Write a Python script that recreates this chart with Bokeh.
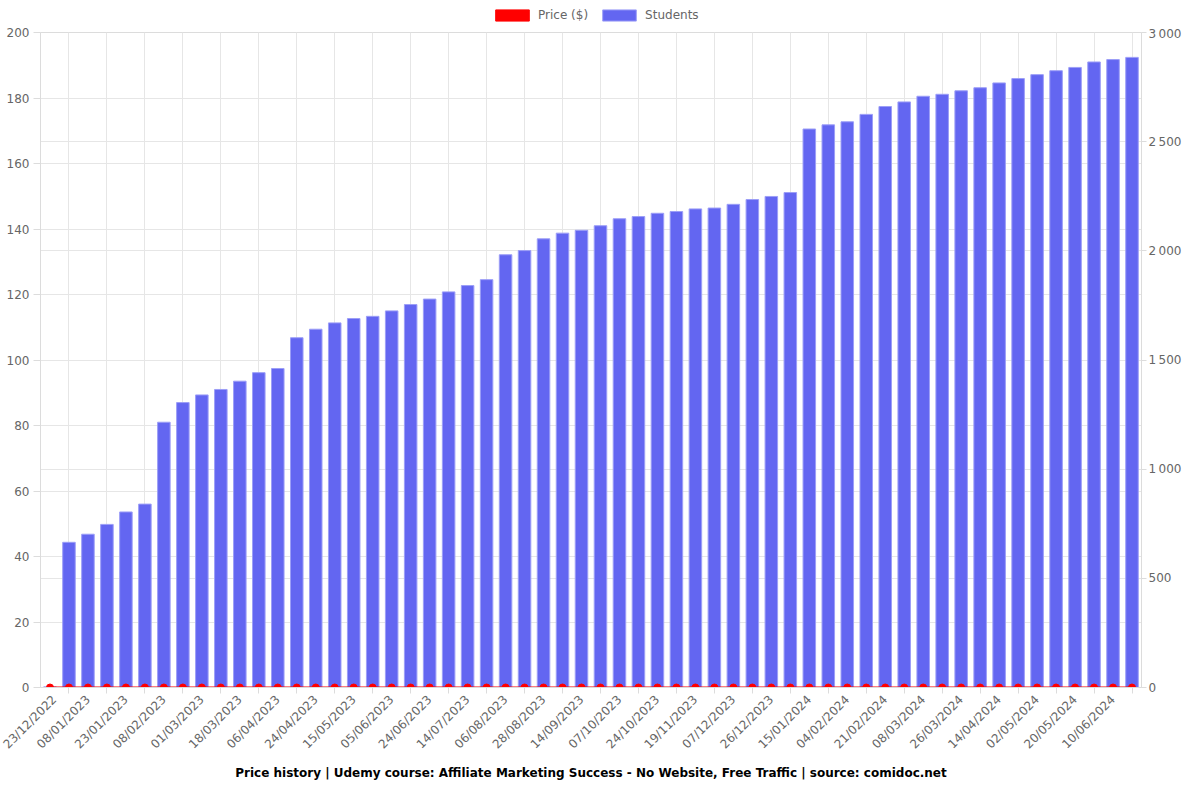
import math
from bokeh.plotting import figure
from bokeh.layouts import column
from bokeh.models import Range1d, LinearAxis, FixedTicker, Grid, Legend, LegendItem
from bokeh.embed import file_html
from bokeh.resources import INLINE

tick_labels = ["23/12/2022", "08/01/2023", "23/01/2023", "08/02/2023", "01/03/2023",
               "18/03/2023", "06/04/2023", "24/04/2023", "15/05/2023", "05/06/2023",
               "24/06/2023", "14/07/2023", "06/08/2023", "28/08/2023", "14/09/2023",
               "07/10/2023", "24/10/2023", "19/11/2023", "07/12/2023", "26/12/2023",
               "15/01/2024", "04/02/2024", "21/02/2024", "08/03/2024", "26/03/2024",
               "14/04/2024", "02/05/2024", "20/05/2024", "10/06/2024"]

students = [3, 665, 702, 747, 804, 840, 1215, 1305, 1340, 1365,
            1403, 1442, 1461, 1602, 1641, 1670, 1690, 1700, 1725, 1754,
            1779, 1812, 1841, 1868, 1982, 2001, 2055, 2081, 2094, 2115,
            2147, 2157, 2172, 2180, 2192, 2196, 2213, 2235, 2249, 2267,
            2558, 2577, 2591, 2625, 2661, 2682, 2708, 2717, 2733, 2747,
            2769, 2789, 2807, 2825, 2840, 2865, 2876, 2886]

price = [0] * len(students)

left_ticks = list(range(0, 201, 20))
right_ticks = list(range(0, 3001, 500))
right_labels = {v: (f"{v:,}".replace(",", "\u202f")) for v in right_ticks}

n = len(students)
x = list(range(n))
even = [i for i in x if i % 2 == 0]
odd = [i for i in x if i % 2 == 1]

GRID = "#e6e6e6"
AXIS = "#dcdcdc"
TXT = "#666666"
FONT = "DejaVu Sans"
BAR_FILL = "#6366F1"
BAR_LINE = "#9c9ef7"
RED = "#ff0000"

# ---------------- legend strip ----------------
lg = figure(width=1184, height=26, output_backend="svg", toolbar_location=None,
            x_axis_type=None, y_axis_type=None,
            x_range=Range1d(-0.5, n - 0.5), y_range=Range1d(10000, 10001),
            min_border=0)
lg.outline_line_color = None
lg.grid.grid_line_color = None
lg_price = lg.vbar(x=x, top=price, width=0.66, fill_color=RED, line_color=RED)
lg_students = lg.vbar(x=x, top=students, width=0.66, fill_color=BAR_FILL,
                      line_color=BAR_LINE)
legend = Legend(items=[LegendItem(label="Price ($)", renderers=[lg_price]),
                       LegendItem(label="Students", renderers=[lg_students])],
                orientation="horizontal", location=(451, 4),
                glyph_width=42, glyph_height=14, label_height=14,
                padding=0, margin=0, spacing=10, label_standoff=5,
                background_fill_alpha=0, border_line_alpha=0,
                label_text_font=FONT, label_text_font_size="12px",
                label_text_color=TXT)
lg.add_layout(legend, "center")

# ---------------- main chart ----------------
p = figure(width=1184, height=758, output_backend="svg", toolbar_location=None,
           x_range=Range1d(-0.5, n - 0.5), y_range=Range1d(0, 200),
           min_border_left=40, min_border_right=40, min_border_top=6,
           min_border_bottom=10)
p.extra_y_ranges = {"students": Range1d(0, 3000)}
p.outline_line_color = AXIS
p.background_fill_color = "white"

bars = p.vbar(x=x, top=students, width=0.66, y_range_name="students",
              fill_color=BAR_FILL, line_color=BAR_LINE, line_width=1)
p.line(x, price, line_color=RED, line_width=2)
p.scatter(x, price, size=7, fill_color=RED, line_color=RED)

# x axis
xa = p.xaxis[0]
xa.ticker = FixedTicker(ticks=even, minor_ticks=odd)
xa.major_label_overrides = {i: tick_labels[k] for k, i in enumerate(even)}
xa.major_label_orientation = math.pi / 4
xa.major_tick_line_color = None
xa.minor_tick_in = 0
xa.minor_tick_out = 6
xa.minor_tick_line_color = AXIS
xa.axis_line_color = AXIS
xa.major_label_text_font = FONT
xa.major_label_text_font_size = "12px"
xa.major_label_text_color = TXT
xa.major_label_standoff = 4

p.xgrid.grid_line_color = None
p.xgrid.minor_grid_line_color = GRID

# left axis
ya = p.yaxis[0]
ya.ticker = FixedTicker(ticks=left_ticks)
ya.major_tick_in = 0
ya.major_tick_out = 7
ya.major_tick_line_color = AXIS
ya.minor_tick_line_color = None
ya.axis_line_color = AXIS
ya.major_label_text_font = FONT
ya.major_label_text_font_size = "12px"
ya.major_label_text_color = TXT
ya.major_label_standoff = 4
p.ygrid.grid_line_color = GRID

# right axis
ra = LinearAxis(y_range_name="students", ticker=FixedTicker(ticks=right_ticks),
                major_label_overrides=right_labels)
ra.major_tick_in = 0
ra.major_tick_out = 5
ra.major_tick_line_color = AXIS
ra.minor_tick_line_color = None
ra.axis_line_color = AXIS
ra.major_label_text_font = FONT
ra.major_label_text_font_size = "12px"
ra.major_label_text_color = TXT
ra.major_label_standoff = 2
p.add_layout(ra, "right")
p.add_layout(Grid(dimension=1, ticker=ra.ticker, y_range_name="students",
                  grid_line_color=GRID))

# title
p.title_location = "below"
p.title.text = "Price history | Udemy course: Affiliate Marketing Success - No Website, Free Traffic | source: comidoc.net"
p.title.align = "center"
p.title.text_font = FONT
p.title.text_font_size = "12px"
p.title.text_font_style = "bold"
p.title.text_color = "#000000"
p.title.standoff = 9

layout = column(lg, p, spacing=0)
open("out.html", "w").write(file_html(layout, INLINE))
